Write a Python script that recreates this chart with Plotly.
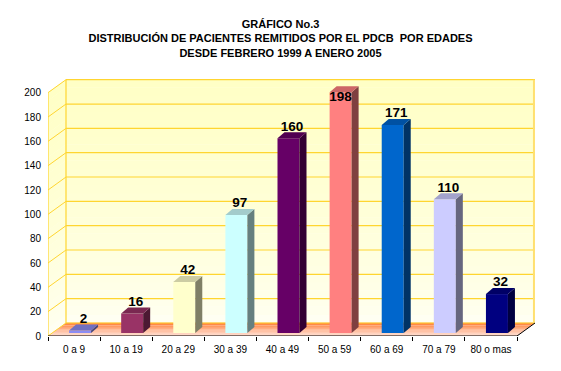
import plotly.graph_objects as go

# ---------------- data ----------------
categories = ["0 a 9", "10 a 19", "20 a 29", "30 a 39", "40 a 49",
              "50 a 59", "60 a 69", "70 a 79", "80 o mas"]
values = [2, 16, 42, 97, 160, 198, 171, 110, 32]
bar_colors = ["#8C8CF2", "#993366", "#FFFFCC", "#CCFFFF", "#660066",
              "#FF8080", "#0066CC", "#CCCCFF", "#000080"]
y_ticks = [0, 20, 40, 60, 80, 100, 120, 140, 160, 180, 200]
title_lines = ["GRÁFICO No.3",
               "DISTRIBUCIÓN DE PACIENTES REMITIDOS POR EL PDCB  POR EDADES",
               "DESDE FEBRERO 1999 A ENERO 2005"]

# ---------------- geometry (pixels -> axis units) ----------------
W, H = 561, 371
ML, MR, MT, MB = 48, 26, 79, 35
n = len(categories)
UX = 469 / n                 # px per category
UY = 243.3 / 200             # px per value unit
XMIN = -0.5
XMAX = XMIN + (W - ML - MR) / UX
YMAX = (H - MT - MB) / UY
DX, DY = 18 / UX, 13 / UY    # wall depth
BASE = 3 / UY                # bar base above front edge
BOFF = 6 / UX                # bar shift to the right
BW = 22 / UX                 # bar front width
BDX, BDY = 7 / UX, 6 / UY    # bar depth


def shade(hexc, f):
    h = hexc.lstrip("#")
    r, g, b = (int(h[i:i + 2], 16) for i in (0, 2, 4))
    return "#%02X%02X%02X" % (int(r * f), int(g * f), int(b * f))


def mix(c1, c2, t):
    a = [int(c1[i:i + 2], 16) for i in (1, 3, 5)]
    b = [int(c2[i:i + 2], 16) for i in (1, 3, 5)]
    return "#%02X%02X%02X" % tuple(int(a[k] + (b[k] - a[k]) * t) for k in range(3))


shapes = []
GOLD = "#FFD530"

# back wall / left wall gradient strips
NS = 30
top_wall = 200 + DY
for i in range(NS):
    y0 = DY + (top_wall - DY) * i / NS
    y1 = DY + (top_wall - DY) * (i + 1) / NS
    t = i / (NS - 1)
    col = mix("#FFFFF2", "#FFFFC6", min(1, t ** 0.7))
    shapes.append(dict(type="rect", xref="x", yref="y", x0=XMIN + DX, x1=XMAX,
                       y0=y0, y1=y1 + 0.3, fillcolor=col, line=dict(width=0),
                       layer="below"))
    ya0 = 200 * i / NS
    ya1 = 200 * (i + 1) / NS
    shapes.append(dict(type="path", xref="x", yref="y",
                       path="M %f %f L %f %f L %f %f L %f %f Z" % (
                           XMIN, ya0, XMIN + DX, ya0 + DY, XMIN + DX, ya1 + DY + 0.3,
                           XMIN, ya1 + 0.3),
                       fillcolor=col, line=dict(width=0), layer="below"))

# floor gradient strips (front light salmon -> back orange)
NF = 10
for i in range(NF):
    f0 = i / NF
    f1 = (i + 1) / NF
    col = mix("#FFD8C8", "#FF7A30", ((i + 0.5) / NF) ** 1.4)
    path = "M %f %f L %f %f L %f %f L %f %f Z" % (
        XMIN + DX * f0, DY * f0, XMIN + n + DX * f0, DY * f0,
        XMIN + n + DX * f1, DY * f1 + 0.15, XMIN + DX * f1, DY * f1 + 0.15)
    shapes.append(dict(type="path", xref="x", yref="y", path=path,
                       fillcolor=col, line=dict(width=0), layer="below"))

# grid lines on back wall and left wall
for t in y_ticks:
    shapes.append(dict(type="line", xref="x", yref="y", x0=XMIN + DX, x1=XMAX,
                       y0=t + DY, y1=t + DY, line=dict(color=GOLD, width=1.2),
                       layer="below"))
    shapes.append(dict(type="line", xref="x", yref="y", x0=XMIN, x1=XMIN + DX,
                       y0=t, y1=t + DY, line=dict(color=GOLD, width=1),
                       layer="below"))
shapes.append(dict(type="line", xref="x", yref="y", x0=XMIN + DX, x1=XMIN + DX,
                   y0=DY, y1=200 + DY, line=dict(color=GOLD, width=1.2), layer="below"))
shapes.append(dict(type="line", xref="x", yref="y", x0=XMAX - 0.02, x1=XMAX - 0.02,
                   y0=DY, y1=200 + DY, line=dict(color="#FFE070", width=2), layer="below"))
shapes.append(dict(type="line", xref="x", yref="y", x0=XMIN, x1=XMIN,
                   y0=0, y1=200, line=dict(color=GOLD, width=1.2), layer="below"))

# front axis lines
shapes.append(dict(type="line", xref="x", yref="y", x0=XMIN, x1=XMIN + n,
                   y0=0, y1=0, line=dict(color="black", width=1)))
shapes.append(dict(type="line", xref="x", yref="y", x0=XMIN + n, x1=XMIN + n + DX,
                   y0=0, y1=DY, line=dict(color="black", width=1)))

fig = go.Figure()

xs = [i + BOFF for i in range(n)]
fig.add_trace(go.Bar(x=xs, y=values, base=BASE, width=BW,
                     marker=dict(color=bar_colors, line=dict(width=0)),
                     hoverinfo="skip", showlegend=False))

for i, (v, c) in enumerate(zip(values, bar_colors)):
    xl = xs[i] - BW / 2
    xr = xs[i] + BW / 2
    yt = BASE + v
    fig.add_trace(go.Scatter(
        x=[xr, xr + BDX, xr + BDX, xr, xr],
        y=[BASE, BASE + BDY, yt + BDY, yt, BASE],
        fill="toself", fillcolor=shade(c, 0.5), mode="lines",
        line=dict(width=0, color=shade(c, 0.5)), hoverinfo="skip", showlegend=False))
    fig.add_trace(go.Scatter(
        x=[xl, xl + BDX, xr + BDX, xr, xl],
        y=[yt, yt + BDY, yt + BDY, yt, yt],
        fill="toself", fillcolor=shade(c, 0.8), mode="lines",
        line=dict(width=0, color=shade(c, 0.8)), hoverinfo="skip", showlegend=False))

lab_x, lab_y = [], []
half_text = 6 / UY
for i, v in enumerate(values):
    yc = BASE + v + 11 / UY
    if yc + half_text > 200 + DY:          # no room above: put inside the bar
        lab_x.append(xs[i])
        lab_y.append(BASE + v - 5.6 / UY)
    else:
        lab_x.append(xs[i] + BDX / 2)
        lab_y.append(yc)
fig.add_trace(go.Scatter(x=lab_x, y=lab_y, mode="text",
                         text=[str(v) for v in values], textposition="middle center",
                         textfont=dict(family="Arial", size=13.5, color="black",
                                       weight="bold"),
                         hoverinfo="skip", showlegend=False))

fig.update_layout(
    width=W, height=H,
    margin=dict(l=ML, r=MR, t=MT, b=MB, pad=0),
    paper_bgcolor="white", plot_bgcolor="white",
    shapes=shapes,
    title=dict(text="<br>".join(title_lines), x=280.5 / W, xref="container",
               xanchor="center", y=1 - 28 / H, yref="container", yanchor="top",
               font=dict(family="Arial", size=11, color="black", weight="bold")),
    xaxis=dict(range=[XMIN, XMAX], tickvals=list(range(n)), ticktext=categories,
               showgrid=False, zeroline=False, showline=False, ticks="",
               ticklabelstandoff=6,
               tickfont=dict(family="Arial", size=10, color="black"),
               minor=dict(tickmode="array",
                          tickvals=[XMIN + k for k in range(n + 1)],
                          ticks="outside", ticklen=4, tickcolor="black",
                          showgrid=False),
               fixedrange=True),
    yaxis=dict(range=[0, YMAX], tickvals=y_ticks, showgrid=False, zeroline=False,
               showline=False, ticks="", ticklabelstandoff=6,
               tickfont=dict(family="Arial", size=10, color="black"),
               fixedrange=True),
)

fig.write_html("out.html", config={"displayModeBar": False},
               post_script="document.body.style.margin='0';document.body.style.overflow='hidden';")
